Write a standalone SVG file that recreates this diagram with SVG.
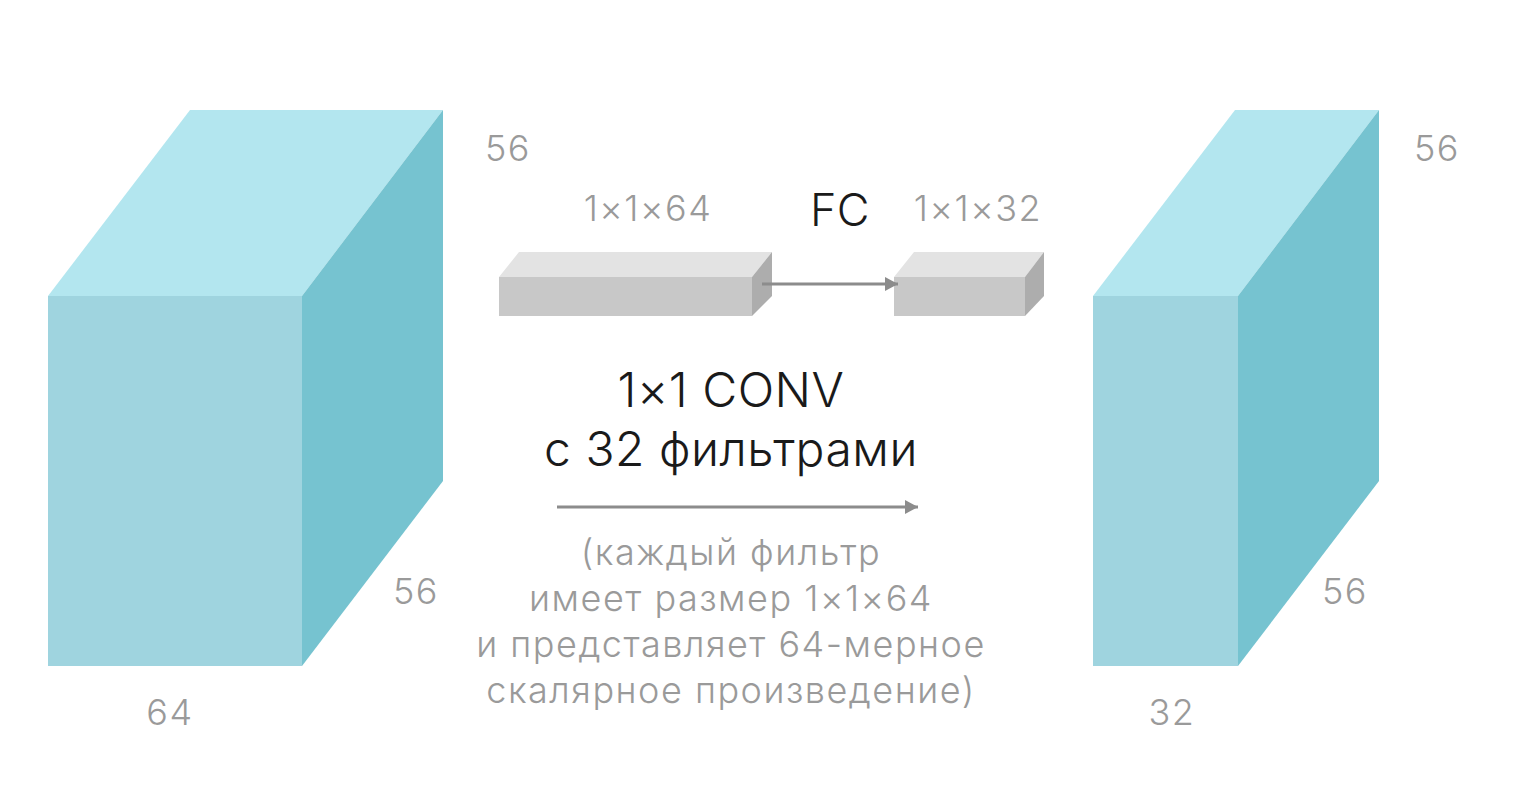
<svg xmlns="http://www.w3.org/2000/svg" width="1530" height="800" viewBox="0 0 1530 800">
<defs>
<style>
.top{fill:#b3e6ef}.front{fill:#9fd4df}.side{fill:#76c3d0}
.gtop{fill:#e3e3e3}.gfront{fill:#c8c8c8}.gside{fill:#adadad}
.lbl{font-family:Inter,"Liberation Sans",sans-serif;font-weight:300;fill:#9a9a9a;font-size:36px;letter-spacing:1.5px}
.dark{font-family:Inter,"Liberation Sans",sans-serif;font-weight:300;fill:#1a1a1a;letter-spacing:0.5px}
.conn{stroke:#8c8c8c;stroke-width:3;fill:none}
</style>
<marker id="ah" viewBox="0 0 13 14" refX="13" refY="7" markerWidth="13" markerHeight="14" markerUnits="userSpaceOnUse" orient="auto">
<path d="M0,0 L13,7 L0,14 z" fill="#8c8c8c"/>
</marker>
</defs>
<rect width="1530" height="800" fill="#ffffff"/>
<g id="cube-in">
<polygon class="top" points="48,296 190,110 443,110 302,296"/>
<polygon class="front" points="48,296 302,296 302,666 48,666"/>
<polygon class="side" points="302,296 443,110 443,481 302,666"/>
<text class="lbl" x="508" y="161" text-anchor="middle">56</text>
<text class="lbl" x="416" y="604" text-anchor="middle">56</text>
<text class="lbl" x="170" y="725" text-anchor="middle">64</text>
</g>
<g id="vec-in">
<polygon class="gtop" points="499,277 519,252 772,252 752,277"/>
<polygon class="gfront" points="499,277 752,277 752,316 499,316"/>
<polygon class="gside" points="752,277 772,252 772,296 752,316"/>
<text class="lbl" x="648" y="221" text-anchor="middle">1×1×64</text>
</g>
<g id="vec-out">
<polygon class="gtop" points="894,277 914,252 1044,252 1025,277"/>
<polygon class="gfront" points="894,277 1025,277 1025,316 894,316"/>
<polygon class="gside" points="1025,277 1044,252 1044,296 1025,316"/>
<text class="lbl" x="978" y="221" text-anchor="middle">1×1×32</text>
</g>
<g id="cube-out">
<polygon class="top" points="1093,296 1235,110 1379,110 1238,296"/>
<polygon class="front" points="1093,296 1238,296 1238,666 1093,666"/>
<polygon class="side" points="1238,296 1379,110 1379,481 1238,666"/>
<text class="lbl" x="1437" y="161" text-anchor="middle">56</text>
<text class="lbl" x="1345" y="604" text-anchor="middle">56</text>
<text class="lbl" x="1172" y="725" text-anchor="middle">32</text>
</g>
<g id="labels">
<text class="dark" x="840" y="226" font-size="45" text-anchor="middle">FC</text>
<text class="dark" x="731" y="407" font-size="48" text-anchor="middle">1×1 CONV</text>
<text class="dark" x="731" y="466" font-size="48" text-anchor="middle">с 32 фильтрами</text>
<text class="lbl" x="731" y="565" text-anchor="middle">(каждый фильтр</text>
<text class="lbl" x="731" y="611" text-anchor="middle">имеет размер 1×1×64</text>
<text class="lbl" x="731" y="657" text-anchor="middle">и представляет 64-мерное</text>
<text class="lbl" x="731" y="703" text-anchor="middle">скалярное произведение)</text>
</g>
<g id="connectors">
<line class="conn" x1="762" y1="284" x2="898" y2="284" marker-end="url(#ah)"/>
<line class="conn" x1="557" y1="507" x2="918" y2="507" marker-end="url(#ah)"/>
</g>
</svg>
